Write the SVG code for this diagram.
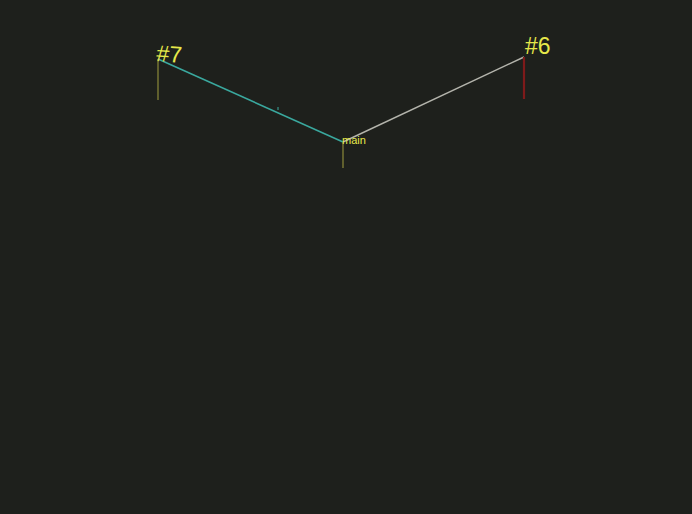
<svg xmlns="http://www.w3.org/2000/svg" width="692" height="514" viewBox="0 0 692 514">
<style>
.lbl{font-family:"Liberation Sans",Arial,sans-serif;fill:#e6e84a}
.big{font-size:23px}
.small{font-size:11px}
.stem{stroke:#8c8a3a;stroke-width:1.2;fill:none}
</style>
<rect width="692" height="514" fill="#1e201c"/>
<g id="connectors">
<line x1="158" y1="59" x2="343" y2="142" stroke="#3aa89e" stroke-width="1.6"/>
<line x1="343" y1="142" x2="524" y2="57" stroke="#b4b4ac" stroke-width="1.4"/>
<line x1="278" y1="107" x2="278" y2="110" stroke="#3aa89e" stroke-width="1"/>
</g>
<g id="node7">
<line class="stem" x1="158" y1="59" x2="158" y2="100"/>
<text class="lbl big" x="156" y="61" transform="rotate(4 156 61)">#7</text>
</g>
<g id="nodemain">
<line class="stem" x1="343" y1="142" x2="343" y2="168"/>
<text class="lbl small" x="342" y="144">main</text>
</g>
<g id="node6">
<line x1="524" y1="57" x2="524" y2="99" stroke="#7e1a1a" stroke-width="2.2"/>
<text class="lbl big" x="525" y="54">#6</text>
</g>
</svg>
